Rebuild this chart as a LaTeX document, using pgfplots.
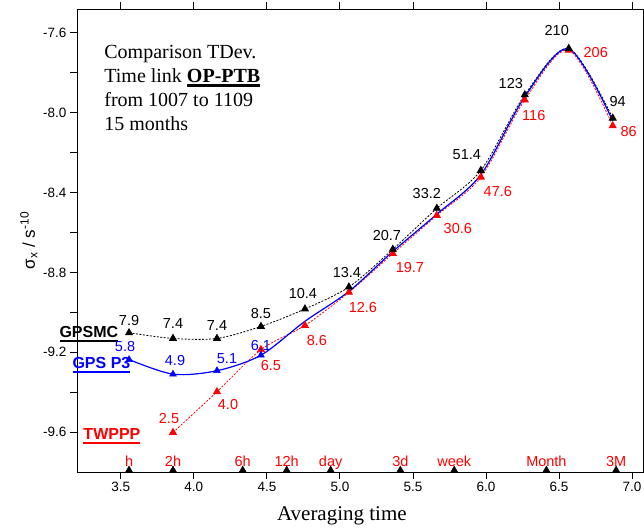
\documentclass[border=0pt]{standalone}
\usepackage{pgfplots}
\pgfplotsset{compat=1.18}
\usepackage{pgfplotstable}
\usepackage{fontspec}
\setmainfont{Liberation Sans}
\newfontfamily\tnr{Liberation Serif}

% thick underline, as in the original figure
\newsavebox\ulbox
\newcommand\ul[1]{\sbox\ulbox{#1}\rlap{\rule[-5pt]{\wd\ulbox}{2.6pt}}\usebox\ulbox}
\newcommand\ult[1]{\sbox\ulbox{#1}\rlap{\rule[-4.5pt]{\wd\ulbox}{3pt}}\usebox\ulbox}

% x = log10(tau / s), y = log10(TDev / s); label in 1e-10 s
\pgfplotstableread{
x       y        lab   dx  dy
3.5563  -9.1024  7.9    0  12
3.8573  -9.1308  7.4    0  15
4.1584  -9.1308  7.4    0  13
4.4594  -9.0706  8.5    0  13
4.7604  -8.9830  10.4  -2  15
5.0615  -8.8729  13.4  -2  14
5.3625  -8.6840  20.7  -6  14
5.6635  -8.4789  33.2 -10  15
5.9646  -8.2890  51.4 -14  16
6.2656  -7.9101  123  -14  11
6.5667  -7.6778  210  -12  18
6.8677  -8.0269  94     5  17
}\gpsmc

\pgfplotstableread{
x       y
3.5563  -9.2366
3.8573  -9.3098
4.1584  -9.2924
4.4594  -9.2147
4.7604  -9.0450
5.0615  -8.8950
5.3625  -8.6950
5.6635  -8.5080
5.9646  -8.3100
6.2656  -7.9200
6.5667  -7.6800
6.8677  -8.0400
}\gpspthree

\pgfplotstableread{
x       y        lab  dx  dy
3.5563  -9.2366  5.8  -4  13
3.8573  -9.3098  4.9   2  14
4.1584  -9.2924  5.1  10  12
4.4594  -9.2147  6.1   0  10
}\gpspthreelab

\pgfplotstableread{
x       y        lab   dx  dy
3.8573  -9.6021  2.5   -4  14
4.1584  -9.3979  4.0   11 -13
4.4594  -9.1871  6.5   10 -16
4.7604  -9.0655  8.6   12 -15
5.0615  -8.8996  12.6  14 -15
5.3625  -8.7055  19.7  17 -14
5.6635  -8.5143  30.6  21 -13
5.9646  -8.3224  47.6  17 -14
6.2656  -7.9355  116    9 -16
6.5667  -7.6861  206   27  -2
6.8677  -8.0655  86    16  -6
}\twppp

% averaging time marks on the time axis
\pgfplotstableread{
x       y        lab
3.5563  -9.7900  h
3.8573  -9.7900  2h
4.3345  -9.7900  6h
4.6355  -9.7900  12h
4.9365  -9.7900  day
5.4136  -9.7900  3d
5.7825  -9.7900  week
6.4136  -9.7900  Month
6.8907  -9.7900  3M
}\marks

\begin{document}
\begin{tikzpicture}
\begin{axis}[
    scale only axis,
    width=566pt, height=463pt,
    xmin=3.2, xmax=7.075,
    ymin=-9.8, ymax=-7.48,
    clip=false,
    axis line style={line width=0.9pt},
    tick style={line width=0.9pt, black},
    tick align=outside,
    major tick length=7pt,
    minor tick length=7pt,
    xtick={3.5,4.0,...,7.0},
    ytick={-9.6,-9.2,-8.8,-8.4,-8.0,-7.6},
    minor ytick={-9.4,-9.0,-8.6,-8.2,-7.8},
    ticklabel style={font=\fontsize{13.5}{16}\selectfont,
        /pgf/number format/.cd, assume math mode=true, fixed, fixed zerofill, precision=1},
    xlabel={Averaging time},
    xlabel style={font=\tnr\fontsize{21}{24}\selectfont,
        at={(rel axis cs:0.468,0)}, anchor=base, yshift=-48pt},
    ylabel={σ\textsubscript{x} / s\textsuperscript{-10}},
    ylabel style={font=\fontsize{17}{20}\selectfont,
        at={(rel axis cs:-0.085,0.5)}, anchor=center},
    mark size=4pt,
    dlabel/.style={
        nodes near coords, point meta=explicit symbolic,
        visualization depends on={\thisrow{dx} \as \dx},
        visualization depends on={\thisrow{dy} \as \dy},
        every node near coord/.append style={anchor=center, inner sep=0pt,
            xshift=\dx pt, yshift=\dy pt, font=\fontsize{14.5}{16}\selectfont}},
]

% TWPPP
\addplot[red, dash pattern=on 2pt off 1.5pt, line width=0.8pt, smooth,
    mark=triangle*, mark options={solid}, dlabel]
    table[x=x, y=y, meta=lab] {\twppp};

% GPSMC
\addplot[black, dash pattern=on 2pt off 1.5pt, line width=0.8pt, smooth,
    mark=triangle*, mark options={solid}, dlabel]
    table[x=x, y=y, meta=lab] {\gpsmc};

% GPS P3
\addplot[blue, line width=1.2pt, smooth, no marks] table[x=x, y=y] {\gpspthree};
\addplot[blue, only marks, mark=triangle*, dlabel]
    table[x=x, y=y, meta=lab] {\gpspthreelab};

% time marks
\addplot[black, only marks, mark=triangle*,
    nodes near coords, point meta=explicit symbolic,
    every node near coord/.append style={red, anchor=base, inner sep=0pt,
        yshift=4pt, font=\fontsize{14.5}{16}\selectfont}]
    table[x=x, y=y, meta=lab] {\marks};

% series names
\node[anchor=base west, inner sep=0pt, font=\bfseries\fontsize{16}{18}\selectfont]
    at (axis cs:3.079,-9.125) {\ul{GPSMC}};
\node[anchor=base west, inner sep=0pt, blue, font=\bfseries\fontsize{16}{18}\selectfont]
    at (axis cs:3.168,-9.280) {\ul{GPS P3}};
\node[anchor=base west, inner sep=0pt, red, font=\bfseries\fontsize{16}{18}\selectfont]
    at (axis cs:3.243,-9.636) {\ul{TWPPP}};

\node[anchor=north west, inner sep=0pt, align=left,
    font=\tnr\fontsize{20}{24}\selectfont] at (rel axis cs:0.048,0.922)
    {Comparison TDev.\\ Time link \ult{\textbf{OP-PTB}}\\ from 1007 to 1109\\ 15 months};
\end{axis}
\pgfresetboundingbox
\path (current axis.south west) ++(-77pt,-55pt) rectangle ++(644pt,527pt);
\end{tikzpicture}
\end{document}
